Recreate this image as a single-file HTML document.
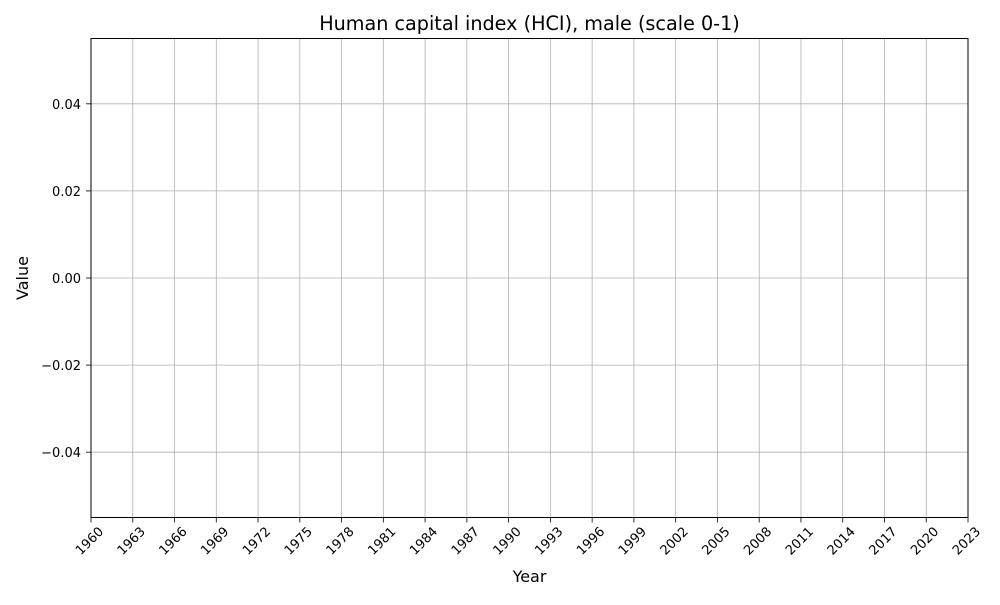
<!DOCTYPE html>
<html><head><meta charset="utf-8"><style>
body{margin:0;background:#fff;}
svg text{font-family:"DejaVu Sans","Liberation Sans",sans-serif;fill:#000;}
</style></head><body>
<svg id="chart" width="1000" height="600" viewBox="0 0 1000 600">
<rect x="0" y="0" width="1000" height="600" fill="#fff"/>
<text x="529.5" y="30" text-anchor="middle" font-size="19.2">Human capital index (HCI), male (scale 0-1)</text>
<g id="grid"></g>
<g id="series"></g>
<rect x="91" y="38.5" width="877" height="479" fill="none" stroke="#000" stroke-width="1"/>
<g id="xaxis"></g>
<g id="yaxis"></g>
<text x="529.5" y="582" text-anchor="middle" font-size="16">Year</text>
<text x="0" y="0" transform="translate(28,278) rotate(-90)" text-anchor="middle" font-size="16">Value</text>
</svg>
<script>
const xTicks = [1960,1963,1966,1969,1972,1975,1978,1981,1984,1987,1990,1993,1996,1999,2002,2005,2008,2011,2014,2017,2020,2023];
const yTicks = [-0.04,-0.02,0.00,0.02,0.04];
const years = [];
const values = [];
const L=91,R=968,T=38.5,B=517.5;
const xMin=1960,xMax=2023,yMin=-0.055,yMax=0.055;
const xs=v=>L+(v-xMin)/(xMax-xMin)*(R-L);
const ys=v=>B-(v-yMin)/(yMax-yMin)*(B-T);
const NS='http://www.w3.org/2000/svg';
const grid=document.getElementById('grid'),xa=document.getElementById('xaxis'),ya=document.getElementById('yaxis'),ser=document.getElementById('series');
function mk(t,a,p){const e=document.createElementNS(NS,t);for(const k in a)e.setAttribute(k,a[k]);p.appendChild(e);return e;}
xTicks.forEach(v=>{
 const x=xs(v);
 const g=mk('line',{x1:x,x2:x,y1:T,y2:B,stroke:'#b0b0b0','stroke-width':0.8},grid);
 
 
 const tk=mk('line',{x1:x,x2:x,y1:B,y2:B+5,stroke:'#000','stroke-width':0.8},xa);
 
 
 const t=mk('text',{x:0,y:0,transform:`translate(${x-1},${B+24}) rotate(-45)`,'text-anchor':'middle','font-size':13,'dominant-baseline':'middle'},xa);
 t.textContent=v;
 
 
});
yTicks.forEach(v=>{
 const y=ys(v);
 const g=mk('line',{x1:L,x2:R,y1:y,y2:y,stroke:'#b0b0b0','stroke-width':0.8},grid);
 
 
 const tk=mk('line',{x1:L-5,x2:L,y1:y,y2:y,stroke:'#000','stroke-width':0.8},ya);
 
 
 const t=mk('text',{x:L-10,y:y+5,'text-anchor':'end','font-size':13},ya);
 t.textContent=(v<0?'\u2212':'')+Math.abs(v).toFixed(2);
 
 
});
if(years.length){
 const p=mk('polyline',{points:years.map((y,i)=>xs(y)+','+ys(values[i])).join(' '),fill:'none',stroke:'#1f77b4','stroke-width':1.5},ser);
 
 
}
</script>
</body></html>
